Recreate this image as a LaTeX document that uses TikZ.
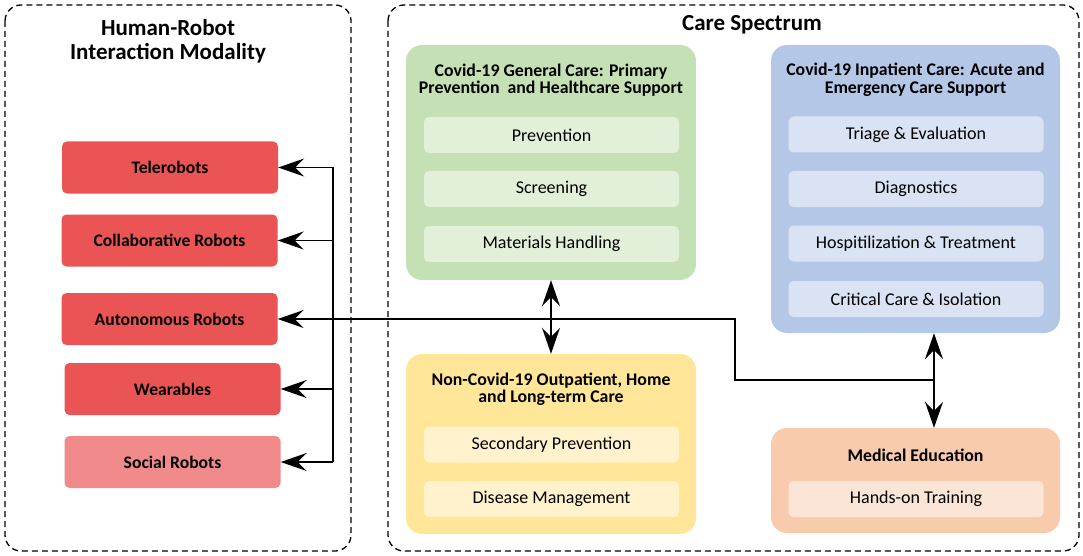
\documentclass[tikz,border=0pt]{standalone}
\usepackage{fontspec}
\setmainfont{Carlito}
\usetikzlibrary{arrows.meta}
\definecolor{redc}{HTML}{EA5455}
\definecolor{redl}{HTML}{F18B8B}
\definecolor{grn}{HTML}{C5E0B4}
\definecolor{grni}{HTML}{E2F0D9}
\definecolor{yel}{HTML}{FFE699}
\definecolor{yeli}{HTML}{FFF2CC}
\definecolor{blu}{HTML}{B4C7E7}
\definecolor{blui}{HTML}{DAE3F3}
\definecolor{org}{HTML}{F8CBAD}
\definecolor{orgi}{HTML}{FBE5D6}
\tikzset{
  frame/.style={draw, dashed, line width=1.3pt, dash pattern=on 6pt off 4pt, rounded corners=16pt},
  bigbox/.style={rounded corners=16pt, inner sep=0pt},
  innerbox/.style={rounded corners=5pt, inner sep=0pt, minimum width=255pt, minimum height=36pt, font=\fontsize{18}{20}\selectfont},
  robot/.style={rounded corners=5pt, fill=redc, inner sep=0pt, minimum width=216pt, minimum height=52pt, font=\bfseries\fontsize{17.6}{20}\selectfont},
  boxtitle/.style={align=center, font=\bfseries\fontsize{17.8}{17.5}\selectfont},
  headtitle/.style={align=center, font=\bfseries\fontsize{23}{24}\selectfont},
  link/.style={line width=1.8pt},
  arr/.style={link, -{Stealth[length=26pt, width=18pt, inset=9pt]}},
  darr/.style={link, {Stealth[length=26pt, width=18pt, inset=9pt]}-{Stealth[length=26pt, width=18pt, inset=9pt]}}
}
\begin{document}
\begin{tikzpicture}[x=1pt, y=-1pt]
\useasboundingbox (0,0) rectangle (1083,556);
% frames
\draw[frame] (5,5) rectangle (351,551);
\draw[frame] (388,5) rectangle (1079,551);
\node[headtitle] (hrt) at (168,41) {Human-Robot\\Interaction Modality};
\node[headtitle] (cst) at (752,25) {Care Spectrum};
% robots
\node[robot] (tele) at (170,167.5) {Telerobots};
\node[robot] (collab) at (169.5,240.5) {Collaborative Robots};
\node[robot] (auto) at (169.5,319) {Autonomous Robots};
\node[robot] (wear) at (172.5,389) {Wearables};
\node[robot, fill=redl] (social) at (172.5,462) {Social Robots};
% green
\node[bigbox, fill=grn, minimum width=290pt, minimum height=235pt] (green) at (551,162.5) {};
\node[boxtitle] (gt) at (551,80) {Covid-19 General Care: Primary\\Prevention\ \ and Healthcare Support};
\node[innerbox, fill=grni] (g1) at (551.5,135) {Prevention};
\node[innerbox, fill=grni] (g2) at (551.5,189) {Screening};
\node[innerbox, fill=grni] (g3) at (551.5,244) {Materials Handling};
% yellow
\node[bigbox, fill=yel, minimum width=290pt, minimum height=180pt] (yellow) at (551,444) {};
\node[boxtitle] (yt) at (551,389) {Non-Covid-19 Outpatient, Home\\and Long-term Care};
\node[innerbox, fill=yeli] (y1) at (551.5,444.5) {Secondary Prevention};
\node[innerbox, fill=yeli] (y2) at (551.5,499) {Disease Management};
% blue
\node[bigbox, fill=blu, minimum width=289pt, minimum height=288pt] (blue) at (915.5,189) {};
\node[boxtitle] (bt) at (915.5,80) {Covid-19 Inpatient Care: Acute and\\Emergency Care Support};
\node[innerbox, fill=blui] (b1) at (916,134.5) {Triage \& Evaluation};
\node[innerbox, fill=blui] (b2) at (916,189) {Diagnostics};
\node[innerbox, fill=blui] (b3) at (916,243.5) {Hospitilization \& Treatment};
\node[innerbox, fill=blui] (b4) at (916,299) {Critical Care \& Isolation};
% orange
\node[bigbox, fill=org, minimum width=289pt, minimum height=105pt] (orange) at (915.5,480.5) {};
\node[boxtitle] (ot) at (915.5,455) {Medical Education};
\node[innerbox, fill=orgi] (o1) at (916,499) {Hands-on Training};
% connectors
\coordinate (bx) at (333,0);
\coordinate (k1) at (735,380);
\coordinate (k2) at (934,380);
\draw[link] (bx |- tele.east) -- (bx |- social.east);
\draw[arr] (bx |- tele.east) -- (tele.east);
\draw[arr] (bx |- collab.east) -- (collab.east);
\draw[arr] (bx |- wear.east) -- (wear.east);
\draw[arr] (bx |- social.east) -- (social.east);
\draw[arr] (k2) -- (k1) -- (k1 |- auto.east) -- (auto.east);
\draw[arr] (k2) -- (blue.south -| k2);
\draw[arr] (k2) -- (orange.north -| k2);
\draw[darr] (green.south) -- (yellow.north);
\end{tikzpicture}
\end{document}
